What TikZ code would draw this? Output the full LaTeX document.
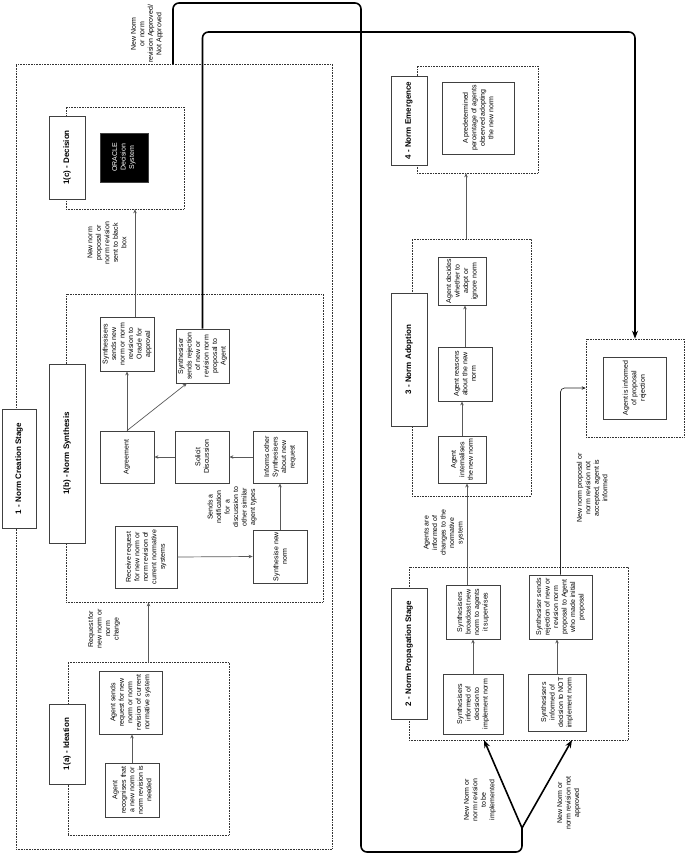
\documentclass[tikz,border=0pt]{standalone}
\usepackage{fontspec}
\setmainfont{Liberation Sans}
\usetikzlibrary{arrows.meta,calc}
\tikzset{
 box/.style={draw=black!75, line width=0.8pt, fill=white, rotate=90, align=center, font=\fontsize{7}{8.5}\selectfont, inner sep=1pt},
 lbl/.style={draw=black!75, line width=0.8pt, fill=white, rotate=90, align=center, font=\fontsize{8}{9.5}\selectfont\bfseries, inner sep=1pt},
 area/.style={draw=black!80, densely dotted, line width=0.6pt, inner sep=0pt},
 note/.style={rotate=90, align=center, font=\fontsize{7}{8.5}\selectfont, inner sep=0pt},
 arr/.style={draw=black!65, line width=0.7pt, -{Stealth[length=4pt,width=3.5pt]}},
 bigline/.style={line width=1.6pt, rounded corners=6pt},
 bigarr/.style={line width=1.6pt, -{Stealth[length=8pt,width=6pt]}},
}
\begin{document}
\begin{tikzpicture}[x=1pt,y=-1pt]
\useasboundingbox (0,0) rectangle (685,854);

% ---- areas
\node[area, minimum width=316pt, minimum height=785pt] (s1) at (174,456.5) {};
\node[area, minimum width=118pt, minimum height=102pt] (dec) at (125,158) {};
\node[area, minimum width=257pt, minimum height=308pt] (s1b) at (194.5,448) {};
\node[area, minimum width=161pt, minimum height=173pt] (s1a) at (148.5,748.5) {};
\node[area, minimum width=121pt, minimum height=107pt] (s4) at (477.5,119.5) {};
\node[area, minimum width=119pt, minimum height=257pt] (s3) at (471.5,367.5) {};
\node[area, minimum width=219pt, minimum height=173pt] (s2) at (518.5,653.5) {};
\node[area, minimum width=98pt, minimum height=98pt] (sai) at (635,388) {};

% ---- stage labels
\node[lbl, minimum width=119pt, minimum height=34pt] (l1) at (19,468.5) {1 - Norm Creation Stage};
\node[lbl, minimum width=83pt, minimum height=36pt] (l1c) at (67,157.5) {1(c) - Decision};
\node[lbl, minimum width=179pt, minimum height=36pt] (l1b) at (67,453.5) {1(b) - Norm Synthesis};
\node[lbl, minimum width=80pt, minimum height=36pt] (l1a) at (67,744) {1(a) - Ideation};
\node[lbl, minimum width=89pt, minimum height=36pt] (l4) at (409,120.5) {4 - Norm Emergence};
\node[lbl, minimum width=133pt, minimum height=36pt] (l3) at (409,359.5) {3 - Norm Adoption};
\node[lbl, minimum width=131pt, minimum height=36pt] (l2) at (409,653.5) {2 - Norm Propagation Stage};

% ---- 1(c)
\node[box, fill=black, text=white, minimum width=49pt, minimum height=48pt] (orc) at (124,157.5) {ORACLE\\Decision\\System};

% ---- 1(b)
\node[box, minimum width=54pt, minimum height=54pt] (ssn) at (127,344) {Synthesisers\\sends new\\norm or norm\\revision to\\Oracle for\\approval};
\node[box, minimum width=54pt, minimum height=53pt] (srj) at (202.5,356) {Synthesiser\\sends rejection\\of new or\\revision norm\\proposal to\\Agent};
\node[box, minimum width=52pt, minimum height=54pt] (agr) at (127,457) {Agreement};
\node[box, minimum width=52pt, minimum height=54pt] (sol) at (202,457) {Solicit\\Discussion};
\node[box, minimum width=52pt, minimum height=54pt] (inf) at (280,457) {Informs other\\Synthesisers\\about new\\request};
\node[box, minimum width=62pt, minimum height=62pt] (rcv) at (146,557) {Receive request\\for new norm or\\norm revision of\\current normative\\systems};
\node[box, minimum width=53pt, minimum height=54pt] (syn) at (280,556.5) {Synthesise new\\norm};

% ---- 1(a)
\node[box, minimum width=63pt, minimum height=63pt] (asr) at (130.5,702.5) {Agent sends\\request for new\\norm or norm\\revision of current\\normative system};
\node[box, minimum width=54pt, minimum height=54pt] (arc) at (132,790) {Agent\\recognises that\\a new norm or\\norm revision is\\needed};

% ---- 4
\node[box, minimum width=72pt, minimum height=72pt] (pred) at (478,118) {A predetermined\\percentage of agents\\observed adopting\\the new norm};

% ---- 3
\node[box, minimum width=48pt, minimum height=48pt] (dcd) at (462,281) {Agent decides\\whether to\\adopt or\\ignore norm};
\node[box, minimum width=54pt, minimum height=54pt] (rea) at (465,374) {Agent reasons\\about the new\\norm};
\node[box, minimum width=47pt, minimum height=48pt] (int) at (462,459.5) {Agent\\internalises\\the new norm};

% ---- 2
\node[box, minimum width=54pt, minimum height=54pt] (bro) at (473,612) {Synthesisers\\broadcast new\\norm to agents\\it supervises};
\node[box, minimum width=60pt, minimum height=60pt] (imp) at (473,704) {Synthesisers\\informed of\\decision to\\implement norm};
\node[box, minimum width=64pt, minimum height=63pt] (rj2) at (560.5,607) {Synthesiser sends\\rejection of new or\\revision norm\\proposal to Agent\\who made initial\\proposal};
\node[box, minimum width=57pt, minimum height=58pt] (nimp) at (557,702.5) {Synthesisers\\informed of\\decision to NOT\\implement norm};

% ---- rejection
\node[box, minimum width=62pt, minimum height=63pt] (air) at (634.5,388) {Agent is informed\\of proposal\\rejection};

% ---- notes
\node[note] (n1) at (147,34) {New Norm\\or norm\\revision Approved/\\Not Approved};
\node[note] (n2) at (107,243) {New norm\\proposal or\\norm revision\\sent to black\\box};
\node[note] (n3) at (232,507) {Sends a\\notification\\for a\\discussion to\\other similar\\agent types};
\node[note] (n4) at (104,629) {Request for\\new norm or\\norm\\change};
\node[note] (n5) at (444,533) {Agents are\\informed of\\changes to the\\normative\\system};
\node[note] (n6) at (592,488) {New norm proposal or\\norm revision not\\accepted, agent is\\informed};
\node[note] (n7) at (480,800) {New Norm or\\norm revision\\to be\\implemented};
\node[note] (n8) at (569,803) {New Norm or\\norm revision not\\approved};

% ---- thin connectors
\draw[arr] (arc.east) -- (arc.east |- asr.west);
\draw[arr] (s1a.north) -- (s1a.north |- s1b.south);
\draw[arr] (rcv.south) -- (syn.north);
\draw[arr] (syn.east) -- (syn.east |- inf.west);
\draw[arr] (inf.north) -- (sol.south);
\draw[arr] (sol.north) -- (agr.south);
\draw[arr] (agr.east) -- (agr.east |- ssn.west);
\draw[arr] (agr.east) -- ($(srj.west)!0.585!(srj.north west)$);
\draw[arr] ($(ssn.east)+(8,0)$) coordinate (r1) -- (r1 |- dec.south);
\draw[arr] (int.east) -- (int.east |- rea.west);
\draw[arr] (rea.east) -- (rea.east |- dcd.west);
\draw[arr] ($(s3.north)+(-5.5,0)$) coordinate (r2) -- (r2 |- s4.south);
\draw[arr] (imp.east) -- (imp.east |- bro.west);
\draw[arr] (nimp.east) -- (nimp.east |- rj2.west);
\draw[arr] ($(bro.east)+(-6,0)$) coordinate (r3) -- (r3 |- int.west);
\draw[arr, draw=black!85, rounded corners=4pt] (rj2.east) |- (sai.west);

% ---- thick connectors
\coordinate (k1) at (635,32);
\draw[bigline, -{Stealth[length=8pt,width=6pt]}] (srj.east) |- (k1) -- (sai.north);
\coordinate (k0) at (173,64);
\coordinate (br) at (522,828);
\coordinate (ta) at (484,740);
\coordinate (tb) at (572,740);
\draw[bigline] (k0) -- (173,3) -- (361,3) -- (361,852) -- (522,852) -- (br);
\draw[bigarr] (br) -- (ta);
\draw[bigarr] (br) -- (tb);
\end{tikzpicture}
\end{document}
